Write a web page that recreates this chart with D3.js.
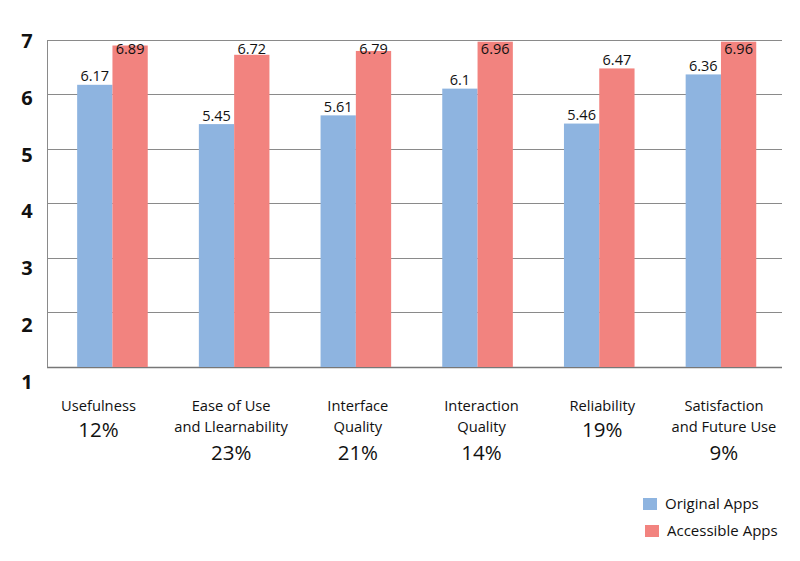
<!DOCTYPE html>
<html>
<head>
<meta charset="utf-8">
<script src="https://cdn.jsdelivr.net/npm/d3@7"></script>
<style>
  html, body { margin: 0; padding: 0; background: #fff; }
  text { font-family: "Open Sans", "Noto Sans", sans-serif; fill: #111; }
</style>
</head>
<body>
<svg id="chart" width="800" height="561"></svg>
<script>
// ---- data ----
const categories = [
  ["Usefulness"],
  ["Ease of Use", "and Llearnability"],
  ["Interface", "Quality"],
  ["Interaction", "Quality"],
  ["Reliability"],
  ["Satisfaction", "and Future Use"]
];
const weights = ["12%", "23%", "21%", "14%", "19%", "9%"];
const originalApps = [6.17, 5.45, 5.61, 6.1, 5.46, 6.36];
const accessibleApps = [6.89, 6.72, 6.79, 6.96, 6.47, 6.96];
const seriesNames = ["Original Apps", "Accessible Apps"];
const yTicks = [1, 2, 3, 4, 5, 6, 7];

// ---- layout ----
const colors = ["#8eb4e0", "#f2837f"];
const plotLeft = 47, plotRight = 782, plotTop = 39.5, plotBottom = 367;
const labelDx = [-14, -3, 2, 4, 3, 3];

const svg = d3.select("#chart");

const x0 = d3.scaleBand()
  .domain(d3.range(categories.length))
  .range([51.6, 781.8])
  .paddingInner(0.42)
  .paddingOuter(0.21);
const x1 = d3.scaleBand()
  .domain([0, 1])
  .range([0, x0.bandwidth()]);
const y = d3.scaleLinear().domain([1, 7]).range([plotBottom, plotTop]);
const yLab = d3.scaleLinear().domain([1, 7]).range([plotBottom + 14.5, plotTop + 1.5]);

// gridlines
svg.append("g").selectAll("line").data(yTicks).join("line")
  .attr("x1", plotLeft).attr("x2", plotRight)
  .attr("y1", d => Math.round(y(d)) + 0.5).attr("y2", d => Math.round(y(d)) + 0.5)
  .attr("stroke", d => d === 1 ? "#777" : "#8a8a8a")
  .attr("stroke-width", d => d === 1 ? 1.5 : 1);
// left axis line
svg.append("line")
  .attr("x1", plotLeft + 0.5).attr("x2", plotLeft + 0.5)
  .attr("y1", Math.round(y(7)) + 0.5).attr("y2", Math.round(y(1)) + 0.5)
  .attr("stroke", "#8a8a8a");

// tick labels
svg.append("g").selectAll("text").data(yTicks).join("text")
  .attr("x", 27).attr("y", d => yLab(d))
  .attr("dy", "0.35em")
  .attr("text-anchor", "middle")
  .style("font-size", "20px").style("font-weight", "bold")
  .text(d => d);

// bars
const rows = categories.map((c, i) => ({ i, vals: [originalApps[i], accessibleApps[i]] }));
const groups = svg.append("g").selectAll("g").data(rows).join("g")
  .attr("transform", d => `translate(${x0(d.i)},0)`);
groups.selectAll("rect").data(d => d.vals.map((v, s) => ({ v, s }))).join("rect")
  .attr("x", d => x1(d.s))
  .attr("width", x1.bandwidth())
  .attr("y", d => y(d.v))
  .attr("height", d => y(1) - y(d.v))
  .attr("fill", d => colors[d.s]);
groups.selectAll("text.val").data(d => d.vals.map((v, s) => ({ v, s }))).join("text")
  .attr("class", "val")
  .attr("x", d => x1(d.s) + x1.bandwidth() / 2)
  .attr("y", d => Math.max(y(d.v) - 3.5, 54))
  .attr("text-anchor", "middle")
  .style("font-size", "14.5px")
  .text(d => d.v);

// category labels
const cat = svg.append("g").selectAll("g").data(rows).join("g")
  .attr("transform", d => `translate(${x0(d.i) + x0.bandwidth() / 2 + labelDx[d.i]},0)`);
cat.each(function (d) {
  const g = d3.select(this);
  const lines = categories[d.i];
  lines.forEach((ln, k) => {
    g.append("text").attr("text-anchor", "middle")
      .attr("y", 411 + k * 20.5)
      .style("font-size", "14.7px")
      .text(ln);
  });
  g.append("text").attr("text-anchor", "middle")
    .attr("y", lines.length === 1 ? 437 : 460)
    .style("font-size", "20.5px")
    .text(weights[d.i]);
});

// legend
const leg = svg.append("g").selectAll("g").data(seriesNames).join("g")
  .attr("transform", (d, i) => `translate(${643 + i * 2},${498 + i * 27})`);
leg.append("rect").attr("width", 14).attr("height", 12).attr("fill", (d, i) => colors[i]);
leg.append("text").attr("x", 22).attr("y", 10.5).style("font-size", "15px").text(d => d);
</script>
</body>
</html>
